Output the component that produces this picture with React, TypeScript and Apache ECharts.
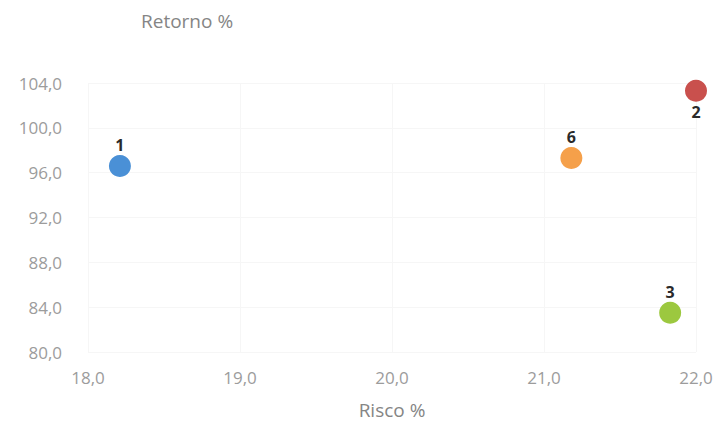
import React, { useEffect, useRef } from "react";
import * as echarts from "echarts";

const pointNames = ["1", "2", "6", "3"];
const riscoValues = [18.21, 22.0, 21.18, 21.83];
const retornoValues = [96.6, 103.3, 97.3, 83.5];
const pointColors = ["#4a90d6", "#c9504d", "#f5a04a", "#9cc83f"];
const labelPositions = ["top", "bottom", "top", "top"];

const fmt = (v: number) => v.toFixed(1).replace(".", ",");

export default function App() {
  const ref = useRef<HTMLDivElement>(null);
  useEffect(() => {
    if (!ref.current) return;
    const chart = echarts.init(ref.current, undefined, { renderer: "svg" });
    const font = "'Open Sans', sans-serif";
    chart.setOption({
      animation: false,
      backgroundColor: "#ffffff",
      grid: {
        left: 88,
        right: 23,
        top: 83,
        bottom: 69,
        containLabel: false,
        outerBoundsMode: "none",
      },
      graphic: [
        {
          type: "text",
          left: 141,
          top: 11,
          style: { text: "Retorno %", fontSize: 19, fill: "#858585", fontFamily: font },
        },
      ],
      xAxis: {
        type: "value",
        min: 18,
        max: 22,
        interval: 1,
        name: "Risco %",
        nameLocation: "middle",
        nameGap: 48,
        nameTextStyle: { color: "#858585", fontSize: 19, fontFamily: font },
        axisLine: { show: false },
        axisTick: { show: false },
        axisLabel: { color: "#9c9c9c", fontSize: 17, fontFamily: font, margin: 17, formatter: fmt },
        splitLine: { show: true, lineStyle: { color: "#f6f6f6" } },
      },
      yAxis: {
        type: "value",
        min: 80,
        max: 104,
        interval: 4,
        axisLine: { show: false },
        axisTick: { show: false },
        axisLabel: { color: "#9c9c9c", fontSize: 17, fontFamily: font, margin: 26, formatter: fmt },
        splitLine: { show: true, lineStyle: { color: "#f6f6f6" } },
      },
      series: [
        {
          type: "scatter",
          symbolSize: 22,
          itemStyle: { opacity: 1 },
          data: pointNames.map((n, i) => ({
            name: n,
            value: [riscoValues[i], retornoValues[i]],
            itemStyle: { color: pointColors[i], opacity: 1 },
            label: { position: labelPositions[i] },
          })),
          label: {
            show: true,
            formatter: (p: any) => p.name,
            color: "#2a2a2a",
            fontWeight: "bold",
            fontSize: 16,
            fontFamily: font,
            distance: 2,
          },
        },
      ],
    });
    return () => chart.dispose();
  }, []);
  return <div ref={ref} style={{ width: 719, height: 421, position: "absolute", left: 0, top: 0 }} />;
}
